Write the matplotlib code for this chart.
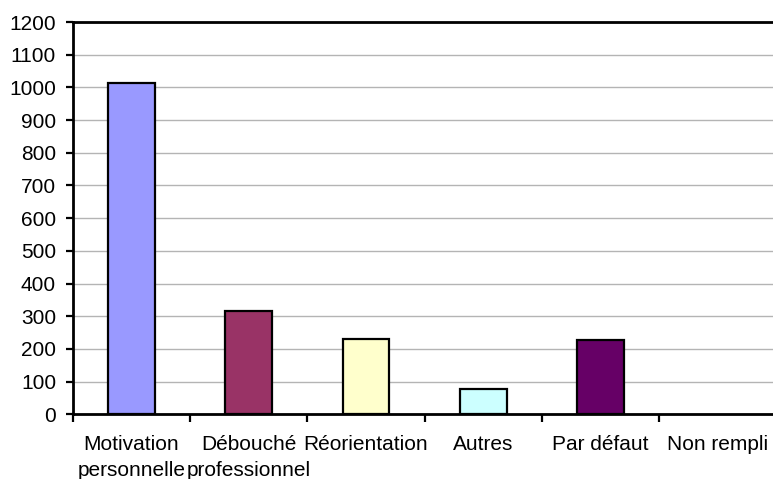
import matplotlib
matplotlib.use("Agg")
import matplotlib.pyplot as plt
import numpy as np

categories = ["Motivation\npersonnelle", "Débouché\nprofessionnel", "Réorientation",
              "Autres", "Par défaut", "Non rempli"]
values = [1013, 317, 229, 78, 227, 0]
colors = ["#9999FF", "#993366", "#FFFFCC", "#CCFFFF", "#660066", "#FFFFFF"]
yticks = list(range(0, 1201, 100))

plt.rcParams['font.family'] = ['Liberation Sans', 'DejaVu Sans']

fig = plt.figure(figsize=(7.73, 4.79), dpi=100)
ax = fig.add_axes([72.7/773, 1-414.3/479, (776.7-72.7)/773, (414.3-22)/479])

x = np.arange(len(categories))
edge_w = [1.6 if v > 0 else 0 for v in values]
ax.bar(x, values, width=0.4, color=colors, edgecolor="black", linewidth=edge_w, zorder=3)

ax.set_xlim(-0.5, len(categories)-0.5)
ax.set_ylim(0, 1200)
ax.set_yticks(yticks)
ax.set_yticklabels([str(v) for v in yticks])
ax.yaxis.grid(True, color="#B4B4B4", linewidth=1.0, zorder=0)
ax.set_axisbelow(True)

ax.set_xticks(x)
ax.set_xticklabels(categories, linespacing=1.45)
ax.set_xticks(np.arange(-0.5, len(categories)), minor=True)
ax.tick_params(axis='x', which='major', length=0, pad=15, labelsize=15)
ax.tick_params(axis='x', which='minor', length=6, width=1.6, direction='out')
ax.tick_params(axis='y', length=5, width=1.6, direction='out', pad=7, labelsize=15)

for s in ['left', 'bottom', 'top']:
    ax.spines[s].set_linewidth(2)
    ax.spines[s].set_color('black')
ax.spines['right'].set_visible(False)

fig.savefig("out.png", dpi=100)
